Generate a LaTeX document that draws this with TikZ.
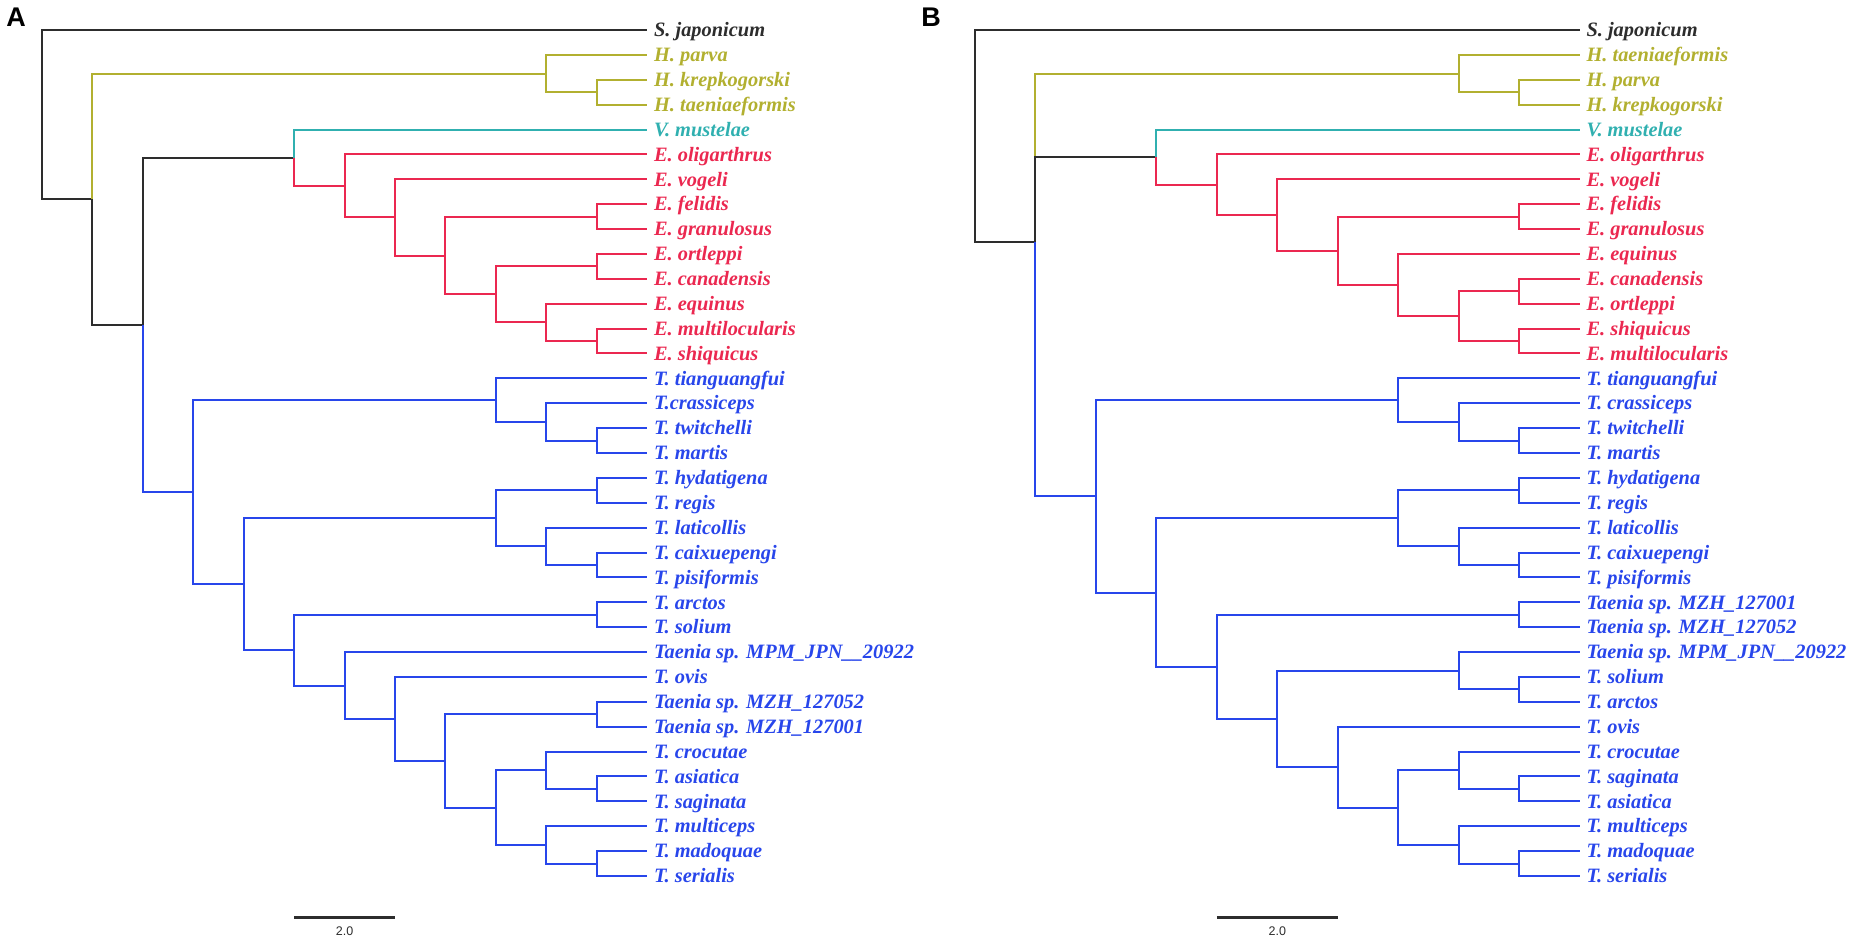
\documentclass[tikz,border=0pt]{standalone}
\usepackage{fontspec}
\setmainfont{Liberation Serif}
\setsansfont{Liberation Sans}

\definecolor{treeblack}{RGB}{45,45,45}
\definecolor{treeolive}{RGB}{178,176,48}
\definecolor{treeteal}{RGB}{48,176,176}
\definecolor{treered}{RGB}{235,40,80}
\definecolor{treeblue}{RGB}{40,70,235}

\tikzset{
  branch/.style={line width=2pt, line join=miter},
  leaf/.style={anchor=west, inner xsep=7pt, inner ysep=0pt, outer sep=0pt,
    text height=13.5pt, text depth=0pt,
    font=\fontsize{20.4}{24}\selectfont\bfseries\itshape},
  bk/.style={color=treeblack},
  ol/.style={color=treeolive},
  tl/.style={color=treeteal},
  rd/.style={color=treered},
  bl/.style={color=treeblue},
  scalebar/.style={line width=3pt, color=treeblack},
  scalelabel/.style={inner sep=0pt, color=treeblack, font=\sffamily\fontsize{12.5}{14}\selectfont},
  panel/.style={inner sep=0pt, font=\sffamily\bfseries\fontsize{27}{30}\selectfont}
}

\begin{document}
\begin{tikzpicture}[x=1pt, y=-1pt]

\useasboundingbox (0,0) rectangle (1851,938);

\node[panel] (pA) at (16, 17.5) {A};
\node[panel] (pB) at (931, 17) {B};

% ---------------- tree A ----------------
\begin{scope}[xshift=42pt, yshift=-30pt, x=50.42pt, y=-24.882pt]

% leaves
\node[leaf, bk] (aSjap) at (12, 0) {S. japonicum};
\node[leaf, ol] (aHpar) at (12, 1) {H. parva};
\node[leaf, ol] (aHkre) at (12, 2) {H. krepkogorski};
\node[leaf, ol] (aHtae) at (12, 3) {H. taeniaeformis};
\node[leaf, tl] (aVmus) at (12, 4) {V. mustelae};
\node[leaf, rd] (aEoli) at (12, 5) {E. oligarthrus};
\node[leaf, rd] (aEvog) at (12, 6) {E. vogeli};
\node[leaf, rd] (aEfel) at (12, 7) {E. felidis};
\node[leaf, rd] (aEgra) at (12, 8) {E. granulosus};
\node[leaf, rd] (aEort) at (12, 9) {E. ortleppi};
\node[leaf, rd] (aEcan) at (12, 10) {E. canadensis};
\node[leaf, rd] (aEequ) at (12, 11) {E. equinus};
\node[leaf, rd] (aEmul) at (12, 12) {E. multilocularis};
\node[leaf, rd] (aEshi) at (12, 13) {E. shiquicus};
\node[leaf, bl] (aTtia) at (12, 14) {T. tianguangfui};
\node[leaf, bl] (aTcra) at (12, 15) {T.crassiceps};
\node[leaf, bl] (aTtwi) at (12, 16) {T. twitchelli};
\node[leaf, bl] (aTmar) at (12, 17) {T. martis};
\node[leaf, bl] (aThyd) at (12, 18) {T. hydatigena};
\node[leaf, bl] (aTreg) at (12, 19) {T. regis};
\node[leaf, bl] (aTlat) at (12, 20) {T. laticollis};
\node[leaf, bl] (aTcai) at (12, 21) {T. caixuepengi};
\node[leaf, bl] (aTpis) at (12, 22) {T. pisiformis};
\node[leaf, bl] (aTarc) at (12, 23) {T. arctos};
\node[leaf, bl] (aTsol) at (12, 24) {T. solium};
\node[leaf, bl] (aTmpm) at (12, 25) {Taenia sp. MPM\_JPN\_\_20922};
\node[leaf, bl] (aTovi) at (12, 26) {T. ovis};
\node[leaf, bl] (aT052) at (12, 27) {Taenia sp. MZH\_127052};
\node[leaf, bl] (aT001) at (12, 28) {Taenia sp. MZH\_127001};
\node[leaf, bl] (aTcro) at (12, 29) {T. crocutae};
\node[leaf, bl] (aTasi) at (12, 30) {T. asiatica};
\node[leaf, bl] (aTsag) at (12, 31) {T. saginata};
\node[leaf, bl] (aTmul) at (12, 32) {T. multiceps};
\node[leaf, bl] (aTmad) at (12, 33) {T. madoquae};
\node[leaf, bl] (aTser) at (12, 34) {T. serialis};

% internal nodes
\coordinate (anR) at (0, 3.4009);
\coordinate (anN1) at (1, 6.8018);
\coordinate (anHy) at (10, 1.75);
\coordinate (anHy2) at (11, 2.5);
\coordinate (anN2) at (2, 11.8535);
\coordinate (anVE) at (5, 5.1328);
\coordinate (anE6) at (6, 6.2656);
\coordinate (anE7) at (7, 7.5313);
\coordinate (anE8) at (8, 9.0625);
\coordinate (anFG) at (11, 7.5);
\coordinate (anE9) at (9, 10.625);
\coordinate (anOC) at (11, 9.5);
\coordinate (anE10) at (10, 11.75);
\coordinate (anMS) at (11, 12.5);
\coordinate (anT) at (3, 18.5742);
\coordinate (anT1) at (9, 14.875);
\coordinate (anT1b) at (10, 15.75);
\coordinate (anTM) at (11, 16.5);
\coordinate (anT2) at (4, 22.2734);
\coordinate (anT2u) at (9, 19.625);
\coordinate (anHR) at (11, 18.5);
\coordinate (anLa) at (10, 20.75);
\coordinate (anCP) at (11, 21.5);
\coordinate (anT5) at (5, 24.9219);
\coordinate (anAS) at (11, 23.5);
\coordinate (anT6) at (6, 26.3438);
\coordinate (anT7) at (7, 27.6875);
\coordinate (anT8) at (8, 29.375);
\coordinate (anMZ) at (11, 27.5);
\coordinate (anT9) at (9, 31.25);
\coordinate (anCr) at (10, 29.75);
\coordinate (anAsSa) at (11, 30.5);
\coordinate (anMu) at (10, 32.75);
\coordinate (anMaSe) at (11, 33.5);

% root and backbone
\draw[branch, bk] (anR) |- (aSjap) (anR) |- (anN1);
\draw[branch, ol] (anN1) |- (anHy);
\draw[branch, bk] (anN1) |- (anN2);
\draw[branch, bk] (anN2) |- (anVE);
\draw[branch, bl] (anN2) |- (anT);

% Hydatigera
\draw[branch, ol] (anHy) |- (aHpar) (anHy) |- (anHy2);
\draw[branch, ol] (anHy2) |- (aHkre) (anHy2) |- (aHtae);

% Versteria + Echinococcus
\draw[branch, tl] (anVE) |- (aVmus);
\draw[branch, rd] (anVE) |- (anE6);
\draw[branch, rd] (anE6) |- (aEoli) (anE6) |- (anE7);
\draw[branch, rd] (anE7) |- (aEvog) (anE7) |- (anE8);
\draw[branch, rd] (anE8) |- (anFG) (anE8) |- (anE9);
\draw[branch, rd] (anFG) |- (aEfel) (anFG) |- (aEgra);
\draw[branch, rd] (anE9) |- (anOC) (anE9) |- (anE10);
\draw[branch, rd] (anOC) |- (aEort) (anOC) |- (aEcan);
\draw[branch, rd] (anE10) |- (aEequ) (anE10) |- (anMS);
\draw[branch, rd] (anMS) |- (aEmul) (anMS) |- (aEshi);

% Taenia
\draw[branch, bl] (anT) |- (anT1) (anT) |- (anT2);
\draw[branch, bl] (anT1) |- (aTtia) (anT1) |- (anT1b);
\draw[branch, bl] (anT1b) |- (aTcra) (anT1b) |- (anTM);
\draw[branch, bl] (anTM) |- (aTtwi) (anTM) |- (aTmar);
\draw[branch, bl] (anT2) |- (anT2u) (anT2) |- (anT5);
\draw[branch, bl] (anT2u) |- (anHR) (anT2u) |- (anLa);
\draw[branch, bl] (anHR) |- (aThyd) (anHR) |- (aTreg);
\draw[branch, bl] (anLa) |- (aTlat) (anLa) |- (anCP);
\draw[branch, bl] (anCP) |- (aTcai) (anCP) |- (aTpis);
\draw[branch, bl] (anT5) |- (anAS) (anT5) |- (anT6);
\draw[branch, bl] (anAS) |- (aTarc) (anAS) |- (aTsol);
\draw[branch, bl] (anT6) |- (aTmpm) (anT6) |- (anT7);
\draw[branch, bl] (anT7) |- (aTovi) (anT7) |- (anT8);
\draw[branch, bl] (anT8) |- (anMZ) (anT8) |- (anT9);
\draw[branch, bl] (anMZ) |- (aT052) (anMZ) |- (aT001);
\draw[branch, bl] (anT9) |- (anCr) (anT9) |- (anMu);
\draw[branch, bl] (anCr) |- (aTcro) (anCr) |- (anAsSa);
\draw[branch, bl] (anAsSa) |- (aTasi) (anAsSa) |- (aTsag);
\draw[branch, bl] (anMu) |- (aTmul) (anMu) |- (anMaSe);
\draw[branch, bl] (anMaSe) |- (aTmad) (anMaSe) |- (aTser);

% scale bar
\coordinate (asb1) at (5, 35.65);
\coordinate (asb2) at (7, 35.65);
\draw[scalebar] (asb1) -- (asb2);
\node[scalelabel] (asbl) at (6, 36.21) {2.0};

\end{scope}

% ---------------- tree B ----------------
\begin{scope}[xshift=975pt, yshift=-30pt, x=60.45pt, y=-24.882pt]

% leaves
\node[leaf, bk] (bSjap) at (10, 0) {S. japonicum};
\node[leaf, ol] (bHtae) at (10, 1) {H. taeniaeformis};
\node[leaf, ol] (bHpar) at (10, 2) {H. parva};
\node[leaf, ol] (bHkre) at (10, 3) {H. krepkogorski};
\node[leaf, tl] (bVmus) at (10, 4) {V. mustelae};
\node[leaf, rd] (bEoli) at (10, 5) {E. oligarthrus};
\node[leaf, rd] (bEvog) at (10, 6) {E. vogeli};
\node[leaf, rd] (bEfel) at (10, 7) {E. felidis};
\node[leaf, rd] (bEgra) at (10, 8) {E. granulosus};
\node[leaf, rd] (bEequ) at (10, 9) {E. equinus};
\node[leaf, rd] (bEcan) at (10, 10) {E. canadensis};
\node[leaf, rd] (bEort) at (10, 11) {E. ortleppi};
\node[leaf, rd] (bEshi) at (10, 12) {E. shiquicus};
\node[leaf, rd] (bEmul) at (10, 13) {E. multilocularis};
\node[leaf, bl] (bTtia) at (10, 14) {T. tianguangfui};
\node[leaf, bl] (bTcra) at (10, 15) {T. crassiceps};
\node[leaf, bl] (bTtwi) at (10, 16) {T. twitchelli};
\node[leaf, bl] (bTmar) at (10, 17) {T. martis};
\node[leaf, bl] (bThyd) at (10, 18) {T. hydatigena};
\node[leaf, bl] (bTreg) at (10, 19) {T. regis};
\node[leaf, bl] (bTlat) at (10, 20) {T. laticollis};
\node[leaf, bl] (bTcai) at (10, 21) {T. caixuepengi};
\node[leaf, bl] (bTpis) at (10, 22) {T. pisiformis};
\node[leaf, bl] (bT001) at (10, 23) {Taenia sp. MZH\_127001};
\node[leaf, bl] (bT052) at (10, 24) {Taenia sp. MZH\_127052};
\node[leaf, bl] (bTmpm) at (10, 25) {Taenia sp. MPM\_JPN\_\_20922};
\node[leaf, bl] (bTsol) at (10, 26) {T. solium};
\node[leaf, bl] (bTarc) at (10, 27) {T. arctos};
\node[leaf, bl] (bTovi) at (10, 28) {T. ovis};
\node[leaf, bl] (bTcro) at (10, 29) {T. crocutae};
\node[leaf, bl] (bTsag) at (10, 30) {T. saginata};
\node[leaf, bl] (bTasi) at (10, 31) {T. asiatica};
\node[leaf, bl] (bTmul) at (10, 32) {T. multiceps};
\node[leaf, bl] (bTmad) at (10, 33) {T. madoquae};
\node[leaf, bl] (bTser) at (10, 34) {T. serialis};

% internal nodes
\coordinate (bnR) at (0, 4.2670);
\coordinate (bnN1) at (1, 8.5339);
\coordinate (bnHy) at (8, 1.75);
\coordinate (bnHy2) at (9, 2.5);
\coordinate (bnVE) at (3, 5.1094);
\coordinate (bnE4) at (4, 6.2188);
\coordinate (bnE5) at (5, 7.4375);
\coordinate (bnE6) at (6, 8.875);
\coordinate (bnFG) at (9, 7.5);
\coordinate (bnE7) at (7, 10.25);
\coordinate (bnE8) at (8, 11.5);
\coordinate (bnCO) at (9, 10.5);
\coordinate (bnSM) at (9, 12.5);
\coordinate (bnT) at (2, 18.7422);
\coordinate (bnT1) at (7, 14.875);
\coordinate (bnT1b) at (8, 15.75);
\coordinate (bnTM) at (9, 16.5);
\coordinate (bnT2) at (3, 22.6094);
\coordinate (bnT2u) at (7, 19.625);
\coordinate (bnHR) at (9, 18.5);
\coordinate (bnLa) at (8, 20.75);
\coordinate (bnCP) at (9, 21.5);
\coordinate (bnT4) at (4, 25.5938);
\coordinate (bnMZ) at (9, 23.5);
\coordinate (bnT5) at (5, 27.6875);
\coordinate (bnMp) at (8, 25.75);
\coordinate (bnSA) at (9, 26.5);
\coordinate (bnT6) at (6, 29.625);
\coordinate (bnT7) at (7, 31.25);
\coordinate (bnCr) at (8, 29.75);
\coordinate (bnSaAs) at (9, 30.5);
\coordinate (bnMu) at (8, 32.75);
\coordinate (bnMaSe) at (9, 33.5);

% root and backbone (three-way split)
\draw[branch, bk] (bnR) |- (bSjap) (bnR) |- (bnN1);
\draw[branch, ol] (bnN1) |- (bnHy);
\draw[branch, bk] (bnN1) |- (bnVE);
\draw[branch, bl] (bnN1) |- (bnT);

% Hydatigera
\draw[branch, ol] (bnHy) |- (bHtae) (bnHy) |- (bnHy2);
\draw[branch, ol] (bnHy2) |- (bHpar) (bnHy2) |- (bHkre);

% Versteria + Echinococcus
\draw[branch, tl] (bnVE) |- (bVmus);
\draw[branch, rd] (bnVE) |- (bnE4);
\draw[branch, rd] (bnE4) |- (bEoli) (bnE4) |- (bnE5);
\draw[branch, rd] (bnE5) |- (bEvog) (bnE5) |- (bnE6);
\draw[branch, rd] (bnE6) |- (bnFG) (bnE6) |- (bnE7);
\draw[branch, rd] (bnFG) |- (bEfel) (bnFG) |- (bEgra);
\draw[branch, rd] (bnE7) |- (bEequ) (bnE7) |- (bnE8);
\draw[branch, rd] (bnE8) |- (bnCO) (bnE8) |- (bnSM);
\draw[branch, rd] (bnCO) |- (bEcan) (bnCO) |- (bEort);
\draw[branch, rd] (bnSM) |- (bEshi) (bnSM) |- (bEmul);

% Taenia
\draw[branch, bl] (bnT) |- (bnT1) (bnT) |- (bnT2);
\draw[branch, bl] (bnT1) |- (bTtia) (bnT1) |- (bnT1b);
\draw[branch, bl] (bnT1b) |- (bTcra) (bnT1b) |- (bnTM);
\draw[branch, bl] (bnTM) |- (bTtwi) (bnTM) |- (bTmar);
\draw[branch, bl] (bnT2) |- (bnT2u) (bnT2) |- (bnT4);
\draw[branch, bl] (bnT2u) |- (bnHR) (bnT2u) |- (bnLa);
\draw[branch, bl] (bnHR) |- (bThyd) (bnHR) |- (bTreg);
\draw[branch, bl] (bnLa) |- (bTlat) (bnLa) |- (bnCP);
\draw[branch, bl] (bnCP) |- (bTcai) (bnCP) |- (bTpis);
\draw[branch, bl] (bnT4) |- (bnMZ) (bnT4) |- (bnT5);
\draw[branch, bl] (bnMZ) |- (bT001) (bnMZ) |- (bT052);
\draw[branch, bl] (bnT5) |- (bnMp) (bnT5) |- (bnT6);
\draw[branch, bl] (bnMp) |- (bTmpm) (bnMp) |- (bnSA);
\draw[branch, bl] (bnSA) |- (bTsol) (bnSA) |- (bTarc);
\draw[branch, bl] (bnT6) |- (bTovi) (bnT6) |- (bnT7);
\draw[branch, bl] (bnT7) |- (bnCr) (bnT7) |- (bnMu);
\draw[branch, bl] (bnCr) |- (bTcro) (bnCr) |- (bnSaAs);
\draw[branch, bl] (bnSaAs) |- (bTsag) (bnSaAs) |- (bTasi);
\draw[branch, bl] (bnMu) |- (bTmul) (bnMu) |- (bnMaSe);
\draw[branch, bl] (bnMaSe) |- (bTmad) (bnMaSe) |- (bTser);

% scale bar
\coordinate (bsb1) at (4, 35.65);
\coordinate (bsb2) at (6, 35.65);
\draw[scalebar] (bsb1) -- (bsb2);
\node[scalelabel] (bsbl) at (5, 36.21) {2.0};

\end{scope}

\end{tikzpicture}
\end{document}
